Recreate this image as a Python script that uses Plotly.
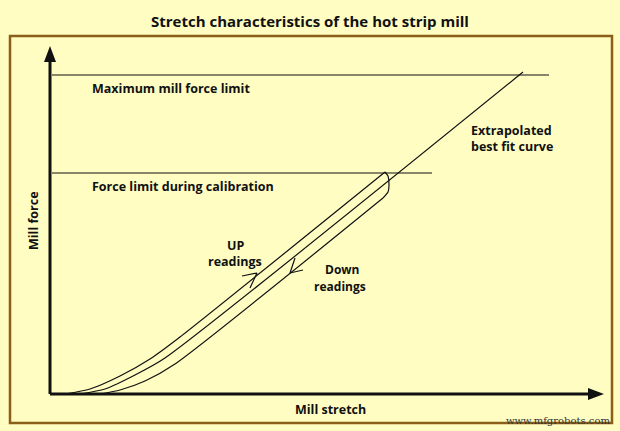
import plotly.graph_objects as go

# Diagram data in stretch/force units (pixel-like scale of the schematic)
up_x = [65, 90, 120, 150, 180, 385]
up_y = [394, 389, 376, 359, 337, 172]
end_x = [385, 388, 389, 388, 383]
end_y = [172, 176, 184, 192, 198]
down_x = [383, 175, 145, 120, 100]
down_y = [198, 364, 381, 390, 394]
mid_x = [80, 105, 135, 165, 523]
mid_y = [394, 389, 375, 358, 72]
max_force = 75
calib_force = 173

BG = "#FFFDC2"
fig = go.Figure()
line = dict(color="#111", width=1.2)
for xs, ys in [(up_x, up_y), (end_x, end_y), (down_x, down_y), (mid_x, mid_y)]:
    fig.add_trace(go.Scatter(x=xs, y=ys, mode="lines", line=dict(line, shape="spline", smoothing=0.6), hoverinfo="skip"))
fig.add_trace(go.Scatter(x=[52, 549], y=[max_force, max_force], mode="lines", line=line))
fig.add_trace(go.Scatter(x=[52, 432], y=[calib_force, calib_force], mode="lines", line=line))
fig.add_trace(go.Scatter(x=[242, 257, 250], y=[276, 273, 288], mode="lines", line=line))
fig.add_trace(go.Scatter(x=[295, 290, 303], y=[258, 273, 270], mode="lines", line=line))

shapes = [
    dict(type="rect", x0=10, x1=612, y0=36, y1=423, line=dict(color="#8B5E1A", width=2.5)),
    dict(type="line", x0=50, x1=50, y0=394, y1=60, line=dict(color="#111", width=3)),
    dict(type="line", x0=50, x1=590, y0=394, y1=394, line=dict(color="#111", width=3)),
    dict(type="path", path="M 44 62 L 56 62 L 50 46 Z", fillcolor="#111", line=dict(width=0)),
    dict(type="path", path="M 588 388 L 588 400 L 604 394 Z", fillcolor="#111", line=dict(width=0)),
]
F = "'Open Sans', Lato, sans-serif"
def t(x, y, s, size=12.5, anchor="left", angle=0, font=F, color="#111"):
    return dict(x=x, y=y, text=s, showarrow=False, xanchor=anchor, yanchor="middle",
                textangle=angle, font=dict(family=font, size=size, color=color))
ann = [
    t(310, 21, "<b>Stretch characteristics of the hot strip mill</b>", 15, "center"),
    t(90, 88, "<b>Maximum mill force limit</b>"),
    t(90, 186, "<b>Force limit during calibration</b>"),
    t(469, 130, "<b>Extrapolated</b>"),
    t(469, 146, "<b>best fit curve</b>"),
    t(235, 245, "<b>UP</b>", anchor="center"),
    t(235, 261, "<b>readings</b>", anchor="center"),
    t(342, 269, "<b>Down</b>", 12, anchor="center"),
    t(340, 286, "<b>readings</b>", 12, anchor="center"),
    t(33, 221, "<b>Mill force</b>", anchor="center", angle=-90),
    t(330, 409, "<b>Mill stretch</b>", anchor="center"),
    t(612, 420, "www.mfgrobots.com", 10, "right", font="'DejaVu Serif', serif", color="#333"),
]
fig.update_layout(width=620, height=431, margin=dict(l=0, r=0, t=0, b=0),
                  paper_bgcolor=BG, plot_bgcolor=BG, showlegend=False,
                  shapes=shapes, annotations=ann,
                  xaxis=dict(range=[0, 620], visible=False, fixedrange=True),
                  yaxis=dict(range=[431, 0], visible=False, fixedrange=True))
fig.write_html("out.html", config={"displayModeBar": False},
               post_script="document.body.style.margin='0';document.body.style.background='%s';" % BG)
